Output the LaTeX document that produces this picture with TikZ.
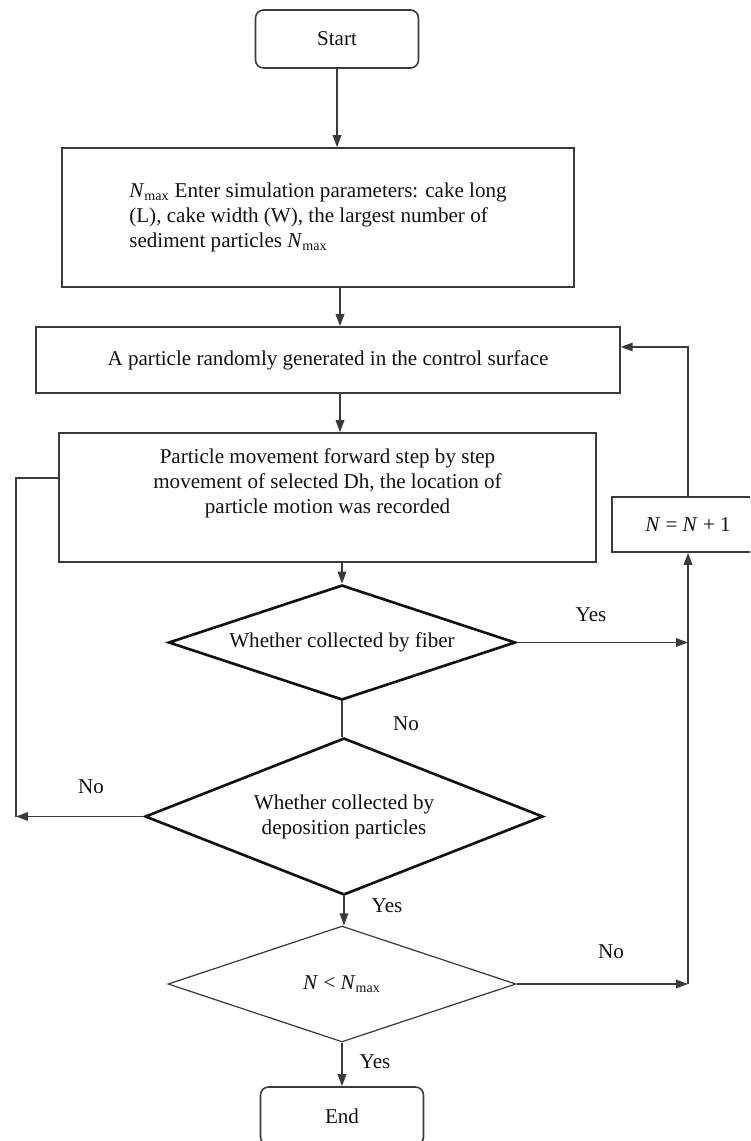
\documentclass[tikz,border=0pt]{standalone}
\usepackage{fontspec}
\setmainfont{Liberation Serif}
\usetikzlibrary{shapes.geometric,arrows.meta,calc}
\definecolor{ink}{HTML}{111111}
\definecolor{wire}{HTML}{3A3A3A}
\tikzset{
  txt/.style={font=\fontsize{12pt}{14.2pt}\selectfont, text=ink},
  term/.style={txt, draw=wire, line width=0.9pt, rounded corners=1.6mm, minimum width=3.26cm, minimum height=1.16cm, inner sep=0pt},
  proc/.style={txt, draw=wire, line width=0.9pt, inner sep=0pt},
  test/.style={txt, diamond, aspect=3, draw=ink, line width=1.5pt, inner sep=0pt},
  flow/.style={draw=wire, line width=1pt},
  arr/.style={flow, -{Triangle[length=2.4mm,width=1.7mm]}},
  ans/.style={txt},
}
\newcommand{\Nm}{\textit{N}\textsubscript{max}}

\begin{document}
\begin{tikzpicture}[x=0.02cm, y=-0.02cm]
  \useasboundingbox (0,0) rectangle (750,1141);
  \clip (0,0) rectangle (750,1141);
  \coordinate (spine) at (340,0);
  % main column
  \node[term] (start) at (337,39) {Start};
  \node[proc, align=left, minimum width=10.24cm, minimum height=2.78cm] (param) at (318,217.5)
    {\Nm{} Enter simulation parameters: cake long\\(L), cake width (W), the largest number of\\sediment particles \Nm};
  \node[proc, minimum width=11.68cm, minimum height=1.32cm] (gen) at (328,360)
    {A particle randomly generated in the control surface};
  \node[proc, align=center, minimum width=10.74cm, minimum height=2.58cm] (move) at (327.5,497.5)
    {Particle movement forward step by step\\movement of selected Dh, the location of\\particle motion was recorded\\\strut};
  \node[test, minimum width=6.94cm, minimum height=2.3cm] (fiber) at (342,642.5) {Whether collected by fiber};
  \node[test, align=center, minimum width=7.96cm, minimum height=3.14cm] (depo) at (344,816.5)
    {Whether collected by\\deposition particles};
  \node[test, line width=0.7pt, draw=wire, minimum width=6.96cm, minimum height=2.32cm] (cmp) at (342,984)
    {\textit{N} < \Nm};
  \node[term] (end) at (342,1116) {End};
  \node[proc, minimum width=3.04cm, minimum height=1.1cm] (incr) at (688,524.5)
    {\textit{N} = \textit{N} + 1};

  \draw[arr] (start.south) -- (start.south |- param.north);
  \draw[arr] (param.south -| spine) -- (gen.north -| spine);
  \draw[arr] (gen.south -| spine) -- (move.north -| spine);
  \draw[arr] (move.south -| fiber) -- (fiber.north);
  \draw[flow] (fiber.south) -- (fiber.south |- depo.north);
  \draw[arr] (depo.south) -- (depo.south |- cmp.north);
  \draw[arr] (cmp.south) -- (end.north);

  % loop on the right
  \coordinate (rtop) at (688,347);
  \draw[arr] (fiber.east) -- (fiber.east -| incr.south);
  \draw[arr] (cmp.east) -- (cmp.east -| incr.south);
  \draw[arr] (cmp.east -| incr.south) -- (incr.south);
  \draw[arr] (incr.north) -- (rtop) -- (rtop -| gen.east);

  % loop on the left
  \coordinate (ltop) at (16,478);
  \draw[arr] (depo.west) -- (depo.west -| ltop);
  \draw[flow] (depo.west -| ltop) -- (ltop) -- (ltop -| move.west);

  \node[ans] (fiberyes) at (591,615) {Yes};
  \node[ans] (fiberno) at (406,724) {No};
  \node[ans] (depono) at (91,787) {No};
  \node[ans] (deposyes) at (387,906) {Yes};
  \node[ans] (cmpno) at (611,952) {No};
  \node[ans] (cmpyes) at (375,1062) {Yes};
\end{tikzpicture}
\end{document}
